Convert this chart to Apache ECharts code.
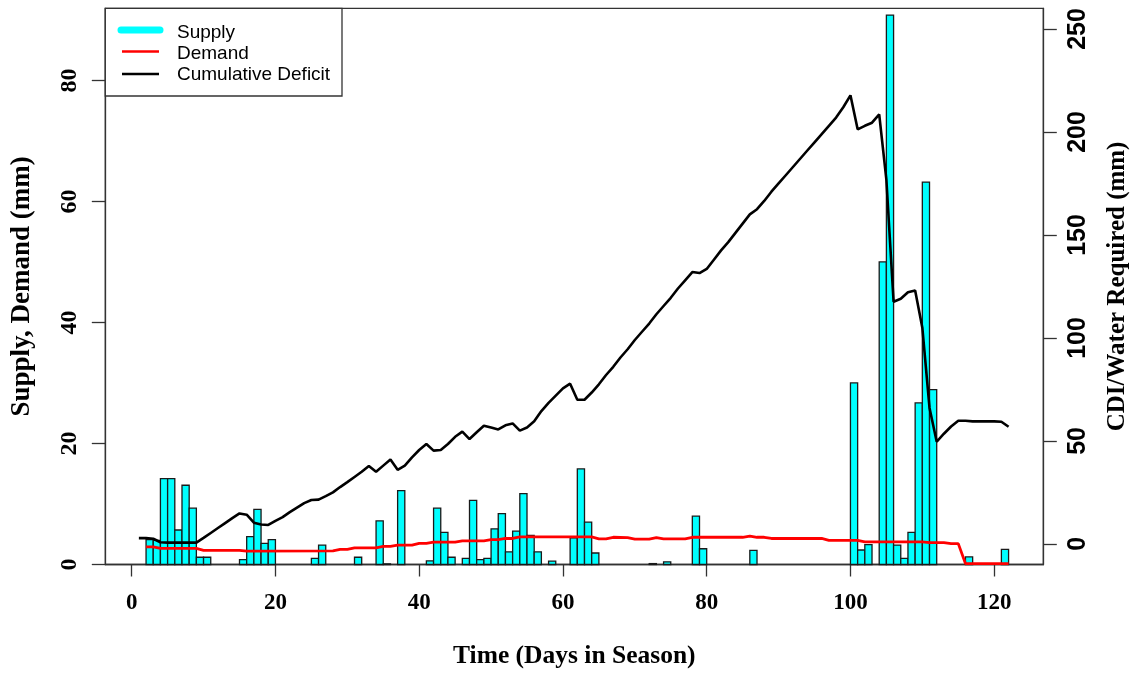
<!DOCTYPE html>
<html>
<head>
<meta charset="utf-8">
<script src="https://cdn.jsdelivr.net/npm/echarts@6/dist/echarts.min.js"></script>
<style>
html,body{margin:0;padding:0;background:#fff;}
#c{width:1135px;height:677px;}
</style>
</head>
<body>
<div id="c"></div>
<script>
// ---- data ----
const supplyDays = [2,3,4,5,6,7,8,9,10,15,16,17,18,19,25,26,31,34,35,37,41,42,43,44,46,47,48,49,50,51,52,53,54,55,56,58,61,62,63,64,72,74,78,79,86,100,101,102,104,105,106,107,108,109,110,111,116,121];
const supplyValues = [4.1,4.0,14.2,14.2,5.7,13.1,9.3,1.2,1.2,0.8,4.6,9.1,3.5,4.1,1.0,3.2,1.2,7.2,0.1,12.2,0.6,9.3,5.3,1.2,1.0,10.6,0.8,1.0,5.9,8.4,2.1,5.5,11.7,4.8,2.1,0.55,4.4,15.8,7.0,1.9,0.15,0.45,8.0,2.6,2.35,30.0,2.4,3.3,50.0,90.8,3.2,1.0,5.3,26.7,63.2,28.9,1.25,2.5];

const demandDays = [2,3,4,9,10,15,16,28,29,30,31,34,35,36,37,39,40,41,42,45,46,49,50,51,52,53,54,64,65,66,67,69,70,72,73,74,77,78,85,86,87,88,89,96,97,101,102,110,111,113,114,115,116,122];
const demandValues = [2.9,2.9,2.65,2.65,2.35,2.35,2.2,2.25,2.5,2.5,2.75,2.75,3.0,3.0,3.2,3.2,3.5,3.5,3.7,3.7,3.9,3.9,4.1,4.1,4.3,4.3,4.55,4.55,4.25,4.25,4.5,4.45,4.2,4.2,4.45,4.25,4.25,4.5,4.5,4.7,4.5,4.5,4.3,4.3,4.0,4.0,3.75,3.75,3.6,3.6,3.45,3.45,0.15,0.15];

const deficitFirstDay = 1;
const deficitValues = [
  2.8,2.8,2.5,0.8,0.6,0.6,0.6,0.6,0.6,2.9,          // 1-10
  5.3,7.7,10.1,12.5,14.8,14.2,10.3,9.4,9.2,11.2,     // 11-20
  13.0,15.4,17.6,19.8,21.3,21.5,23.2,25.0,27.6,30.0, // 21-30
  32.5,35.0,37.8,35.0,38.0,41.0,36.0,38.0,42.0,45.6, // 31-40
  48.5,45.3,45.6,48.5,52.0,54.5,50.9,54.2,57.4,56.5, // 41-50
  55.6,57.6,58.5,55.0,56.5,59.5,64.5,68.5,72.0,75.5, // 51-60
  77.8,70.0,70.0,73.5,77.5,82.0,86.0,90.5,94.5,99.0, // 61-70
  103.0,107.0,111.5,115.5,119.5,124.0,128.0,132.0,131.5,133.5, // 71-80
  138.0,142.5,146.5,151.0,155.5,160.0,162.5,166.5,171.0,175.0, // 81-90
  179.0,183.0,187.0,191.0,195.0,199.0,203.0,207.0,212.0,217.8, // 91-100
  201.3,203.0,204.5,208.5,176.7,117.6,119.0,122.2,123.0,105.0, // 101-110
  66.0,49.6,53.5,57.0,59.8,59.8,59.5,59.5,59.5,59.5,  // 111-120
  59.3,56.9                                           // 121-122
];

const xTickValues = [0,20,40,60,80,100,120];
const leftTickValues = [0,20,40,60,80];
const rightTickValues = [0,50,100,150,200,250];

const legendLabels = ['Supply','Demand','Cumulative Deficit'];
const xTitle = 'Time (Days in Season)';
const leftTitle = 'Supply, Demand (mm)';
const rightTitle = 'CDI/Water Required (mm)';

// ---- chart ----
const SERIF = '"Liberation Serif","Times New Roman",serif';
const SANS = '"Liberation Sans",Arial,sans-serif';
const AX = '#333';

const chart = echarts.init(document.getElementById('c'), null, {renderer:'canvas'});

const supplyData = supplyDays.map((d,i)=>[d, supplyValues[i]]);
const demandData = demandDays.map((d,i)=>[d, demandValues[i]]);
const deficitData = deficitValues.map((v,i)=>[deficitFirstDay + i, v]);

const option = {
  animation: false,
  backgroundColor: '#fff',
  grid: {
    left: 105.3, right: 91.7, top: 8.4, bottom: 112.5,
    show: true, borderColor: AX, borderWidth: 1.3, backgroundColor: 'transparent',
    containLabel: false, outerBoundsMode: 'none'
  },
  xAxis: {
    type: 'value', min: -3.67, max: 126.83,
    name: xTitle, nameLocation: 'middle', nameGap: 79,
    nameTextStyle: {fontFamily: SERIF, fontWeight: 'bold', fontSize: 25.5, color: '#000'},
    axisLine: {show: true, onZero: false, lineStyle: {color: AX, width: 1.3}},
    axisTick: {show: true, length: 12, customValues: xTickValues, lineStyle: {color: AX, width: 1.3}},
    axisLabel: {customValues: xTickValues, margin: 27, fontFamily: SERIF, fontWeight: 'bold', fontSize: 23, color: '#000'},
    splitLine: {show: false}
  },
  yAxis: [
    {
      type: 'value', position: 'left', min: 0, max: 91.9,
      name: leftTitle, nameLocation: 'middle', nameGap: 70,
      nameTextStyle: {fontFamily: SERIF, fontWeight: 'bold', fontSize: 27, color: '#000'},
      axisLine: {show: true, onZero: false, lineStyle: {color: AX, width: 1.3}},
      axisTick: {show: true, length: 13.5, customValues: leftTickValues, lineStyle: {color: AX, width: 1.3}},
      axisLabel: {customValues: leftTickValues, rotate: 90, margin: 24, fontFamily: SERIF, fontWeight: 'bold', fontSize: 24, color: '#000'},
      splitLine: {show: false}
    },
    {
      type: 'value', position: 'right', min: -10, max: 260,
      name: rightTitle, nameLocation: 'middle', nameGap: 62,
      nameTextStyle: {fontFamily: SERIF, fontWeight: 'bold', fontSize: 25, color: '#000'},
      axisLine: {show: true, onZero: false, lineStyle: {color: AX, width: 1.3}},
      axisTick: {show: true, length: 13.5, customValues: rightTickValues, lineStyle: {color: AX, width: 1.3}},
      axisLabel: {customValues: rightTickValues, rotate: 90, margin: 22, fontFamily: SANS, fontWeight: 'bold', fontSize: 25, color: '#000'},
      splitLine: {show: false}
    }
  ],
  series: [
    {
      name: legendLabels[0], type: 'custom', xAxisIndex: 0, yAxisIndex: 0, z: 2,
      data: supplyData, encode: {x: 0, y: 1},
      renderItem: function (params, api) {
        const d = api.value(0), v = api.value(1);
        const a = api.coord([d, 0]);
        const b = api.coord([d + 1, v]);
        return {
          type: 'rect',
          shape: {x: a[0], y: b[1], width: b[0] - a[0], height: a[1] - b[1]},
          style: {fill: '#00ffff', stroke: '#1a1a1a', lineWidth: 1.3}
        };
      }
    },
    {
      name: legendLabels[1], type: 'line', xAxisIndex: 0, yAxisIndex: 0, z: 3,
      data: demandData, showSymbol: false, symbol: 'none',
      lineStyle: {color: '#ff0000', width: 2.8}
    },
    {
      name: legendLabels[2], type: 'line', xAxisIndex: 0, yAxisIndex: 1, z: 4,
      data: deficitData, showSymbol: false, symbol: 'none',
      lineStyle: {color: '#000', width: 2.6}
    }
  ],
  graphic: [
    {type: 'rect', z: 100, shape: {x: 105.3, y: 8.4, width: 236.7, height: 87.6},
     style: {fill: '#fff', stroke: AX, lineWidth: 1.3}},
    {type: 'line', z: 101, shape: {x1: 121, y1: 30, x2: 160, y2: 30},
     style: {stroke: '#00ffff', lineWidth: 7, lineCap: 'round'}},
    {type: 'line', z: 101, shape: {x1: 122, y1: 51.5, x2: 159, y2: 51.5},
     style: {stroke: '#ff0000', lineWidth: 2.6}},
    {type: 'line', z: 101, shape: {x1: 122, y1: 74, x2: 159, y2: 74},
     style: {stroke: '#000', lineWidth: 2.6}},
    {type: 'text', z: 101, x: 177, y: 33, style: {text: legendLabels[0], fontFamily: SANS, fontSize: 19, fill: '#000', verticalAlign: 'middle'}},
    {type: 'text', z: 101, x: 177, y: 54, style: {text: legendLabels[1], fontFamily: SANS, fontSize: 19, fill: '#000', verticalAlign: 'middle'}},
    {type: 'text', z: 101, x: 177, y: 74.5, style: {text: legendLabels[2], fontFamily: SANS, fontSize: 19, fill: '#000', verticalAlign: 'middle'}}
  ]
};
chart.setOption(option);
</script>
</body>
</html>
